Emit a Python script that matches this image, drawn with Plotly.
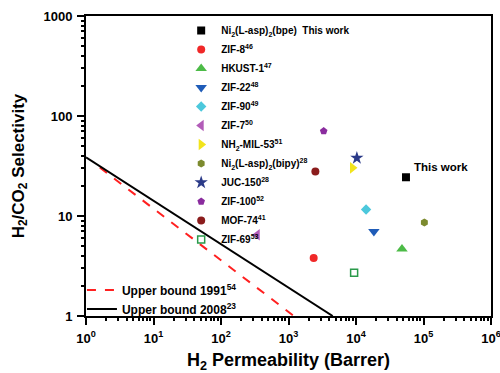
import plotly.graph_objects as go

# --- data ---
names = [
    "Ni<sub>2</sub>(L-asp)<sub>2</sub>(bpe)  This work",
    "ZIF-8<sup>46</sup>",
    "HKUST-1<sup>47</sup>",
    "ZIF-22<sup>48</sup>",
    "ZIF-90<sup>49</sup>",
    "ZIF-7<sup>50</sup>",
    "NH<sub>2</sub>-MIL-53<sup>51</sup>",
    "Ni<sub>2</sub>(L-asp)<sub>2</sub>(bipy)<sup>28</sup>",
    "JUC-150<sup>28</sup>",
    "ZIF-100<sup>52</sup>",
    "MOF-74<sup>41</sup>",
    "ZIF-69<sup>53</sup>",
]
permeability = [55000, 2360, 48000, 18400, 14100, 344, 8870, 103000, 10300, 3320, 2500, 9380]
selectivity = [24.4, 3.8, 4.67, 7.0, 11.6, 6.5, 30.3, 8.6, 38, 70.6, 27.8, 2.7]
symbols = ["square", "circle", "triangle-up", "triangle-down", "diamond", "triangle-left",
           "triangle-right", "hexagon", "star", "pentagon", "circle", "square"]
colors = ["#000000", "#f02828", "#4cbb47", "#1f5cb8", "#4cc8dc", "#b25cb8",
          "#f2e41c", "#7c8a2e", "#2b3a88", "#8a2c9e", "#8b1c1c", "#2a9a4a"]

bound1991_x = [1.6, 1200]
bound1991_y = [30.5, 1]
bound2008_x = [1, 4515]
bound2008_y = [38.7, 1]

x_tickvals = [1, 10, 100, 1000, 10000, 100000, 1000000]
x_ticktext = ["10<sup>0</sup>", "10<sup>1</sup>", "10<sup>2</sup>", "10<sup>3</sup>",
              "10<sup>4</sup>", "10<sup>5</sup>", "10<sup>6</sup>"]
y_tickvals = [1, 10, 100, 1000]
y_ticktext = ["1", "10", "100", "1000"]
minor_digits = [2, 3, 4, 5, 6, 7, 8, 9]
x_minor_vals = [d * 10 ** e for e in range(0, 6) for d in minor_digits]
y_minor_vals = [d * 10 ** e for e in range(0, 3) for d in minor_digits]

FONT = "Liberation Sans, Arial, sans-serif"

fig = go.Figure()
for i, n in enumerate(names):
    line = dict(width=0)
    color = colors[i]
    if i == 11:
        line = dict(width=1.5, color=colors[i])
        color = "#ffffff"
    size = 10 if symbols[i] in ("star", "triangle-up", "triangle-down", "triangle-left", "triangle-right") else 8
    if i == 11:
        size = 7
    fig.add_trace(go.Scatter(
        x=[permeability[i]], y=[selectivity[i]], mode="markers", name=n,
        marker=dict(symbol=symbols[i], color=color, size=size, line=line),
        legend="legend",
    ))

fig.add_trace(go.Scatter(
    x=bound1991_x, y=bound1991_y, mode="lines", name="Upper bound 1991<sup>54</sup>",
    line=dict(color="#ff2020", width=2, dash="dash"), legend="legend2",
))
fig.add_trace(go.Scatter(
    x=bound2008_x, y=bound2008_y, mode="lines", name="Upper bound 2008<sup>23</sup>",
    line=dict(color="#000000", width=2), legend="legend2",
))

fig.add_annotation(x=4.83, y=1.494, xref="x", yref="y", text="<b>This work</b>",
                   showarrow=False, xanchor="left", yanchor="middle",
                   font=dict(family=FONT, size=11.5, color="black"))

axis_common = dict(
    type="log", showline=True, linewidth=2, linecolor="black", mirror=True,
    ticks="outside", ticklen=7, tickwidth=2, tickcolor="#000000",
    showgrid=False, zeroline=False, automargin=False, ticklabeloverflow="allow",
    ticklabelstandoff=2,
    tickfont=dict(family=FONT, size=13, color="black", weight="bold"),
)

fig.update_layout(
    xaxis=dict(range=[0, 6], tickmode="array", tickvals=x_tickvals, ticktext=x_ticktext,
               title=dict(text="<b>H<sub>2</sub> Permeability (Barrer)</b>",
                          font=dict(family=FONT, size=18, color="black")),
               **axis_common),
    yaxis=dict(range=[0, 3], tickmode="array", tickvals=y_tickvals, ticktext=y_ticktext,
               title=dict(text="<b>H<sub>2</sub>/CO<sub>2</sub> Selectivity</b>",
                          font=dict(family=FONT, size=17, color="black")),
               **axis_common),
    # overlay axes carrying the minor ticks
    xaxis2=dict(type="log", range=[0, 6], overlaying="x", side="bottom", anchor="y",
                tickmode="array", tickvals=x_minor_vals, showticklabels=False,
                ticks="outside", ticklen=4, tickwidth=1.5, tickcolor="#000000",
                showgrid=False, zeroline=False, showline=False, automargin=False),
    yaxis2=dict(type="log", range=[0, 3], overlaying="y", side="left", anchor="x",
                tickmode="array", tickvals=y_minor_vals, showticklabels=False,
                ticks="outside", ticklen=4, tickwidth=1.5, tickcolor="#000000",
                showgrid=False, zeroline=False, showline=False, automargin=False),
    width=500, height=373,
    margin=dict(l=86, r=9, t=16, b=57),
    plot_bgcolor="white", paper_bgcolor="white",
    legend=dict(x=0.235, y=1.0, xanchor="left", yanchor="top",
                bgcolor="rgba(0,0,0,0)", tracegroupgap=0,
                font=dict(family=FONT, size=10, color="black", weight="bold")),
    legend2=dict(x=-0.01, y=-0.025, xanchor="left", yanchor="bottom",
                 bgcolor="rgba(0,0,0,0)", itemwidth=30,
                 font=dict(family=FONT, size=12, color="black", weight="bold")),
    showlegend=True,
)

# invisible helper so the overlay axes are drawn
fig.add_trace(go.Scatter(x=[1], y=[1], xaxis="x2", yaxis="y2", mode="markers",
                         marker=dict(opacity=0), showlegend=False, hoverinfo="skip"))

fig.write_html("out.html", config={"displayModeBar": False},
               post_script="document.body.style.margin='0px';document.body.style.padding='0px';")
